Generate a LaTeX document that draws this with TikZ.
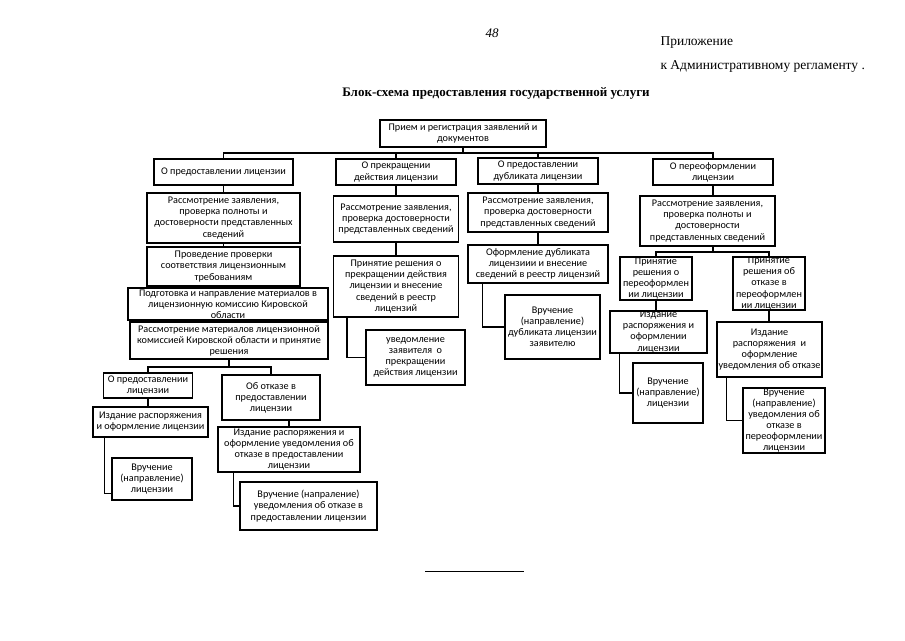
\documentclass[tikz,border=0pt]{standalone}
\usepackage{fontspec}
\setmainfont{Liberation Serif}
\newfontfamily\blkfont{Carlito}

\begin{document}
\begin{tikzpicture}[x=1pt,y=-1pt,
  blk/.style 2 args={draw,line width=1.4pt,align=center,inner sep=1pt,
    minimum width=#1,minimum height=#2,
    font=\blkfont\fontsize{10.2}{11.1}\selectfont},
  link/.style={line width=1.4pt}]
  \useasboundingbox (0,0) rectangle (905,640);

  % header
  \node[font=\fontsize{13}{15}\selectfont\itshape] (pagenum) at (492,33) {48};
  \node[anchor=base west,font=\fontsize{13.5}{16}\selectfont] (pril) at (657,45) {Приложение};
  \node[anchor=base west,font=\fontsize{13.5}{16}\selectfont] (regl) at (657,69)
    {к Административному регламенту .};
  \node[anchor=base,font=\fontsize{13}{15}\selectfont\bfseries] (title) at (496,96)
    {Блок-схема предоставления государственной услуги};

  % top level
  \node[blk={166pt}{27pt}] (priem) at (463,133.5) {Прием и регистрация заявлений и\\документов};
  \node[blk={139pt}{26pt}] (predost) at (223.5,172) {О предоставлении лицензии};
  \node[blk={120pt}{26pt}] (prekr) at (396,172) {О прекращении\\действия лицензии};
  \node[blk={120pt}{26pt}] (dubl) at (538,171) {О предоставлении\\дубликата лицензии};
  \node[blk={120pt}{26pt}] (pereof) at (713,172) {О переоформлении\\лицензии};

  \coordinate (bus) at (463,153);
  \draw[link] (priem.south) -- (bus);
  \draw[link] (predost.north) |- (bus) -| (pereof.north);
  \draw[link] (prekr.north) -- (prekr.north |- bus);
  \draw[link] (dubl.north) -- (dubl.north |- bus);

  % granting a licence
  \node[blk={153pt}{50pt}] (predost2) at (223.5,218)
    {Рассмотрение заявления,\\проверка полноты и\\достоверности представленных\\сведений};
  \node[blk={153pt}{39pt}] (predost3) at (223.5,266.5)
    {Проведение проверки\\соответствия лицензионным\\требованиям};
  \node[blk={200pt}{32pt},inner ysep=0pt] (predost4) at (228,304)
    {Подготовка и направление материалов в\\лицензионную комиссию Кировской\\области};
  \node[blk={198pt}{37pt}] (predost5) at (229,340.5)
    {Рассмотрение материалов лицензионной\\комиссией Кировской области и принятие\\решения};
  \node[blk={89pt}{25pt}] (resh1) at (148,385.5) {О предоставлении\\лицензии};
  \node[blk={98pt}{45pt}] (resh2) at (271,397.5) {Об отказе в\\предоставлении\\лицензии};
  \node[blk={115pt}{30pt}] (izd1) at (150.5,422) {Издание распоряжения\\и оформление лицензии};
  \node[blk={142pt}{45pt}] (izd2) at (289,449.5)
    {Издание распоряжения и\\оформление уведомления об\\отказе в предоставлении\\лицензии};
  \node[blk={80pt}{42pt}] (vruch1) at (152,479) {Вручение\\(направление)\\лицензии};
  \node[blk={137pt}{48pt}] (vruch2) at (308.5,506)
    {Вручение (напраление)\\уведомления об отказе в\\предоставлении лицензии};

  \draw[link] (predost.south) -- (predost2.north);
  \draw[link] (predost2.south) -- (predost3.north);
  \draw[link] (predost3.south) -- (predost4.north);
  \draw[link] (predost4.south) -- (predost5.north);
  \coordinate (abus) at (229,367);
  \draw[link] (predost5.south) -- (abus);
  \draw[link] (resh1.north) |- (abus) -| (resh2.north);
  \draw[link] (resh1.south) -- (resh1.south |- izd1.north);
  \draw[link] (izd2.north) -- (izd2.north |- resh2.south);
  \draw[link] ([xshift=12pt]izd1.south west) |- ([yshift=7pt]vruch1.south west);
  \draw[link] ([xshift=16pt]izd2.south west) |- (vruch2.west);

  % termination
  \node[blk={125pt}{46pt}] (prekr2) at (396,219)
    {Рассмотрение заявления,\\проверка достоверности\\представленных сведений};
  \node[blk={125pt}{61pt}] (prekr3) at (396,286.5)
    {Принятие решения о\\прекращении действия\\лицензии и внесение\\сведений в реестр\\лицензий};
  \node[blk={99pt}{55pt}] (prekr4) at (415.5,357.5)
    {уведомление\\заявителя\ \ о\\прекращении\\действия лицензии};
  \draw[link] (prekr.south) -- (prekr2.north);
  \draw[link] (prekr2.south) -- (prekr3.north);
  \draw[link] ([xshift=14pt]prekr3.south west) |- (prekr4.west);

  % duplicate
  \node[blk={140pt}{39pt}] (dubl2) at (538,212.5)
    {Рассмотрение заявления,\\проверка достоверности\\представленных сведений};
  \node[blk={140pt}{38pt}] (dubl3) at (538,264)
    {Оформление дубликата\\лицензиии и внесение\\сведений в реестр лицензий};
  \node[blk={95pt}{64pt}] (dubl4) at (552.5,327)
    {Вручение\\(направление)\\дубликата лицензии\\заявителю};
  \draw[link] (dubl.south) -- (dubl2.north);
  \draw[link] (dubl2.south) -- (dubl3.north);
  \draw[link] ([xshift=15pt]dubl3.south west) |- (dubl4.west);

  % re-issue
  \node[blk={135pt}{50pt}] (pereof2) at (707.5,221)
    {Рассмотрение заявления,\\проверка полноты и\\достоверности\\представленных сведений};
  \node[blk={72pt}{43pt},inner ysep=0pt] (prin1) at (656,278.5) {Принятие\\решения о\\переоформлен\\ии лицензии};
  \node[blk={72pt}{53pt},inner ysep=0pt] (prin2) at (769,283.5) {Принятие\\решения об\\отказе в\\переоформлен\\ии лицензии};
  \node[blk={97pt}{42pt},inner ysep=0pt] (izdp1) at (658.5,332) {Издание\\распоряжения и\\оформлении\\лицензии};
  \node[blk={105pt}{55pt}] (izdp2) at (769.5,349.5)
    {Издание\\распоряжения\ \ и\\оформление\\уведомления об отказе};
  \node[blk={70pt}{60pt}] (vrp1) at (668,393) {Вручение\\(направление)\\лицензии};
  \node[blk={82pt}{65pt},inner ysep=0pt] (vrp2) at (784,420.5)
    {Вручение\\(направление)\\уведомления об\\отказе в\\переоформлении\\лицензии};
  \draw[link] (pereof.south) -- (pereof.south |- pereof2.north);
  \coordinate (dbus) at (713,252);
  \draw[link] (pereof2.south -| dbus) -- (dbus);
  \draw[link] (prin1.north) |- (dbus) -| (prin2.north);
  \draw[link] (prin1.south) -- (prin1.south |- izdp1.north);
  \draw[link] (prin2.south) -- (prin2.south |- izdp2.north);
  \draw[link] ([xshift=10pt]izdp1.south west) |- (vrp1.west);
  \draw[link] ([xshift=10pt]izdp2.south west) |- (vrp2.west);

  % footer rule
  \draw[line width=1pt] (425,571) -- (524,571);
\end{tikzpicture}
\end{document}
